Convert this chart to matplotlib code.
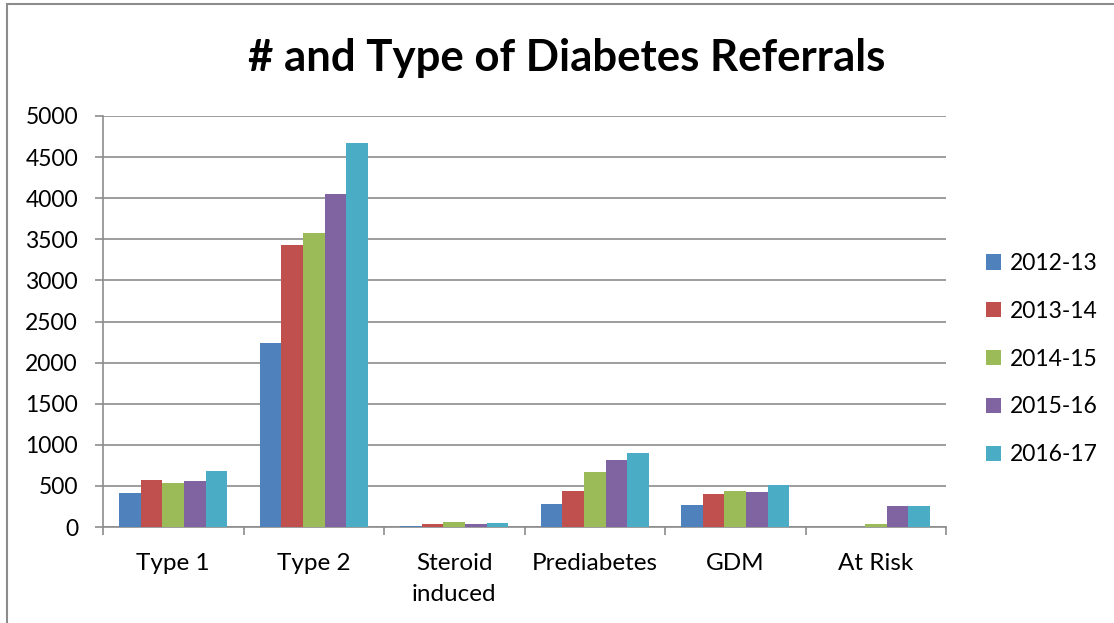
import matplotlib
matplotlib.use("Agg")
import matplotlib.pyplot as plt
import numpy as np
from matplotlib.patches import Rectangle

categories = ["Type 1", "Type 2", "Steroid\ninduced", "Prediabetes", "GDM", "At Risk"]
series_names = ["2012-13", "2013-14", "2014-15", "2015-16", "2016-17"]
v2012 = [415, 2234, 8, 281, 265, 0]
v2013 = [568, 3431, 37, 440, 407, 0]
v2014 = [531, 3572, 61, 672, 444, 37]
v2015 = [564, 4047, 41, 818, 427, 252]
v2016 = [685, 4667, 53, 900, 513, 256]
colors = ["#4F81BD", "#C0504D", "#9BBB59", "#8064A2", "#4BACC6"]
yticks = [0, 500, 1000, 1500, 2000, 2500, 3000, 3500, 4000, 4500, 5000]

series = [v2012, v2013, v2014, v2015, v2016]

plt.rcParams['font.family'] = ['Lato', 'DejaVu Sans']

fig = plt.figure(figsize=(11.14, 6.23), dpi=100)
ax = fig.add_axes([103/1114, 96/623, (946-103)/1114, (527-116)/623])

n = len(series)
bw = 1.0 / (n + 1.5)
x = np.arange(len(categories))
for i, (vals, c, name) in enumerate(zip(series, colors, series_names)):
    offs = (i - (n - 1) / 2) * bw
    ax.bar(x + offs, vals, width=bw, color=c, label=name, linewidth=0, zorder=3)

ax.set_xlim(-0.5, len(categories) - 0.5)
ax.set_ylim(0, 5000)
ax.set_yticks(yticks)
ax.set_yticklabels([str(t) for t in yticks], fontsize=16.5)
ax.yaxis.grid(True, color='#8c8c8c', linewidth=1.2, zorder=0)
ax.set_axisbelow(True)

ax.set_xticks(np.arange(len(categories) + 1) - 0.5)
ax.set_xticklabels([])
ax.set_xticks(x, minor=True)
ax.set_xticklabels(categories, minor=True, fontsize=17.5, linespacing=1.55, va='top')
ax.tick_params(axis='x', which='minor', length=0, pad=19)
ax.tick_params(axis='x', which='major', length=6, width=1.2, color='#8c8c8c', direction='out')
ax.tick_params(axis='y', length=6, width=1.2, color='#8c8c8c', direction='out', pad=12)

for s in ['top', 'right']:
    ax.spines[s].set_visible(False)
for s in ['left', 'bottom']:
    ax.spines[s].set_color('#8c8c8c')
    ax.spines[s].set_linewidth(1.2)

leg = fig.legend(loc='upper left', bbox_to_anchor=(986/1114, 1 - 253/623), frameon=False,
                 fontsize=16.5, handlelength=0.65, handleheight=0.65, handletextpad=0.4,
                 labelspacing=1.17, borderaxespad=0, borderpad=0)

fig.text(567/1114, 1 - 58/623, "# and Type of Diabetes Referrals", ha='center', va='center',
         fontsize=31.5, fontweight='bold')

fig.patches.append(Rectangle((7/1114, -0.1), 1.2, 1 - 4.5/623 + 0.1, transform=fig.transFigure,
                             fill=False, edgecolor='#8c8c8c', linewidth=1.5, figure=fig))

fig.savefig("out.png", dpi=100)
